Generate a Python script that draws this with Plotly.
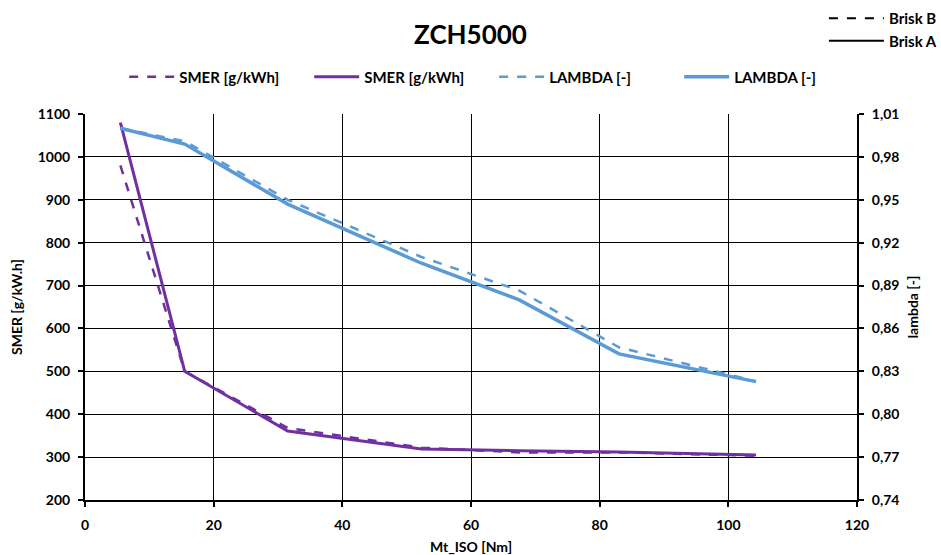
import plotly.graph_objects as go

# Torque points (Nm)
torque = [5.5, 15.5, 31.5, 52.3, 67.5, 83.0, 104.3]

# Specific fuel consumption [g/kWh]
smer_brisk_b = [980, 500, 368, 322, 311, 311, 303]
smer_brisk_a = [1080, 500, 361, 319, 315, 312, 305]

# Air-fuel ratio lambda [-]
lambda_brisk_b = [1.000, 0.991, 0.950, 0.910, 0.8865, 0.8468, 0.823]
lambda_brisk_a = [1.000, 0.989, 0.947, 0.9056, 0.880, 0.8422, 0.8228]

PURPLE = "#7030A0"
BLUE = "#5B9BD5"
FONT = "Lato"

fig = go.Figure()

fig.add_trace(go.Scatter(x=torque, y=smer_brisk_b, mode="lines", name="SMER [g/kWh]",
                         line=dict(color=PURPLE, width=2.5, dash="dash"), yaxis="y"))
fig.add_trace(go.Scatter(x=torque, y=smer_brisk_a, mode="lines", name="SMER [g/kWh]",
                         line=dict(color=PURPLE, width=3), yaxis="y"))
fig.add_trace(go.Scatter(x=torque, y=lambda_brisk_b, mode="lines", name="LAMBDA [-]",
                         line=dict(color=BLUE, width=2.5, dash="dash"), yaxis="y2"))
fig.add_trace(go.Scatter(x=torque, y=lambda_brisk_a, mode="lines", name="LAMBDA [-]",
                         line=dict(color=BLUE, width=3.5), yaxis="y2"))

# Line-style key for the two variants
fig.add_trace(go.Scatter(x=[None], y=[None], mode="lines", name="Brisk B",
                         line=dict(color="black", width=2, dash="dash"), legend="legend2"))
fig.add_trace(go.Scatter(x=[None], y=[None], mode="lines", name="Brisk A",
                         line=dict(color="black", width=2), legend="legend2"))

tick_font = dict(family=FONT, size=14, color="black", weight="bold")
axis_title_font = dict(family=FONT, size=14, color="black", weight="bold")

fig.update_layout(
    width=941, height=555,
    margin=dict(l=85, r=84, t=114, b=55, autoexpand=False),
    paper_bgcolor="white", plot_bgcolor="white",
    separators=", ",
    font=dict(family=FONT, color="black"),
    title=dict(text="ZCH5000", x=0.5, xanchor="center", y=1 - 35 / 555, yanchor="middle",
               font=dict(family=FONT, size=26, color="black", weight="bold")),
    showlegend=True,
    legend=dict(orientation="h", x=0.53, xanchor="center", y=1.096, yanchor="middle",
                font=dict(family=FONT, size=15, color="black", weight="bold"),
                entrywidth=125, itemwidth=45, bgcolor="rgba(0,0,0,0)", traceorder="normal"),
    legend2=dict(orientation="v", x=1.11, xanchor="right", y=1.29, yanchor="top",
                 font=dict(family=FONT, size=15, color="black", weight="bold"),
                 itemwidth=55, tracegroupgap=0, bgcolor="rgba(0,0,0,0)"),
    xaxis=dict(range=[0, 120], dtick=20, tick0=0, showgrid=True, gridcolor="black", gridwidth=1.3,
               showline=True, linecolor="black", linewidth=2, ticks="outside", ticklen=5,
               tickcolor="black", tickwidth=1.5, tickfont=tick_font, zeroline=False,
               ticklabelstandoff=6,
               title=dict(text="Mt_ISO [Nm]", font=axis_title_font, standoff=10)),
    yaxis=dict(range=[200, 1100], dtick=100, tick0=200, showgrid=True, gridcolor="black", gridwidth=1.3,
               showline=True, linecolor="black", linewidth=2, ticks="outside", ticklen=5,
               tickcolor="black", tickwidth=1.5, tickfont=tick_font, zeroline=False,
               tickformat="d", ticklabelstandoff=5,
               title=dict(text="SMER [g/kW.h]", font=axis_title_font, standoff=12)),
    yaxis2=dict(range=[0.74, 1.01], dtick=0.03, tick0=0.74, overlaying="y", side="right",
                showgrid=False, showline=True, linecolor="black", linewidth=2, ticks="outside",
                ticklen=5, tickcolor="black", tickwidth=1.5, tickfont=tick_font, zeroline=False,
                tickformat=".2f", ticklabelstandoff=5,
                title=dict(text="lambda [-]", font=axis_title_font, standoff=10)),
)

fig.write_html("out.html")
